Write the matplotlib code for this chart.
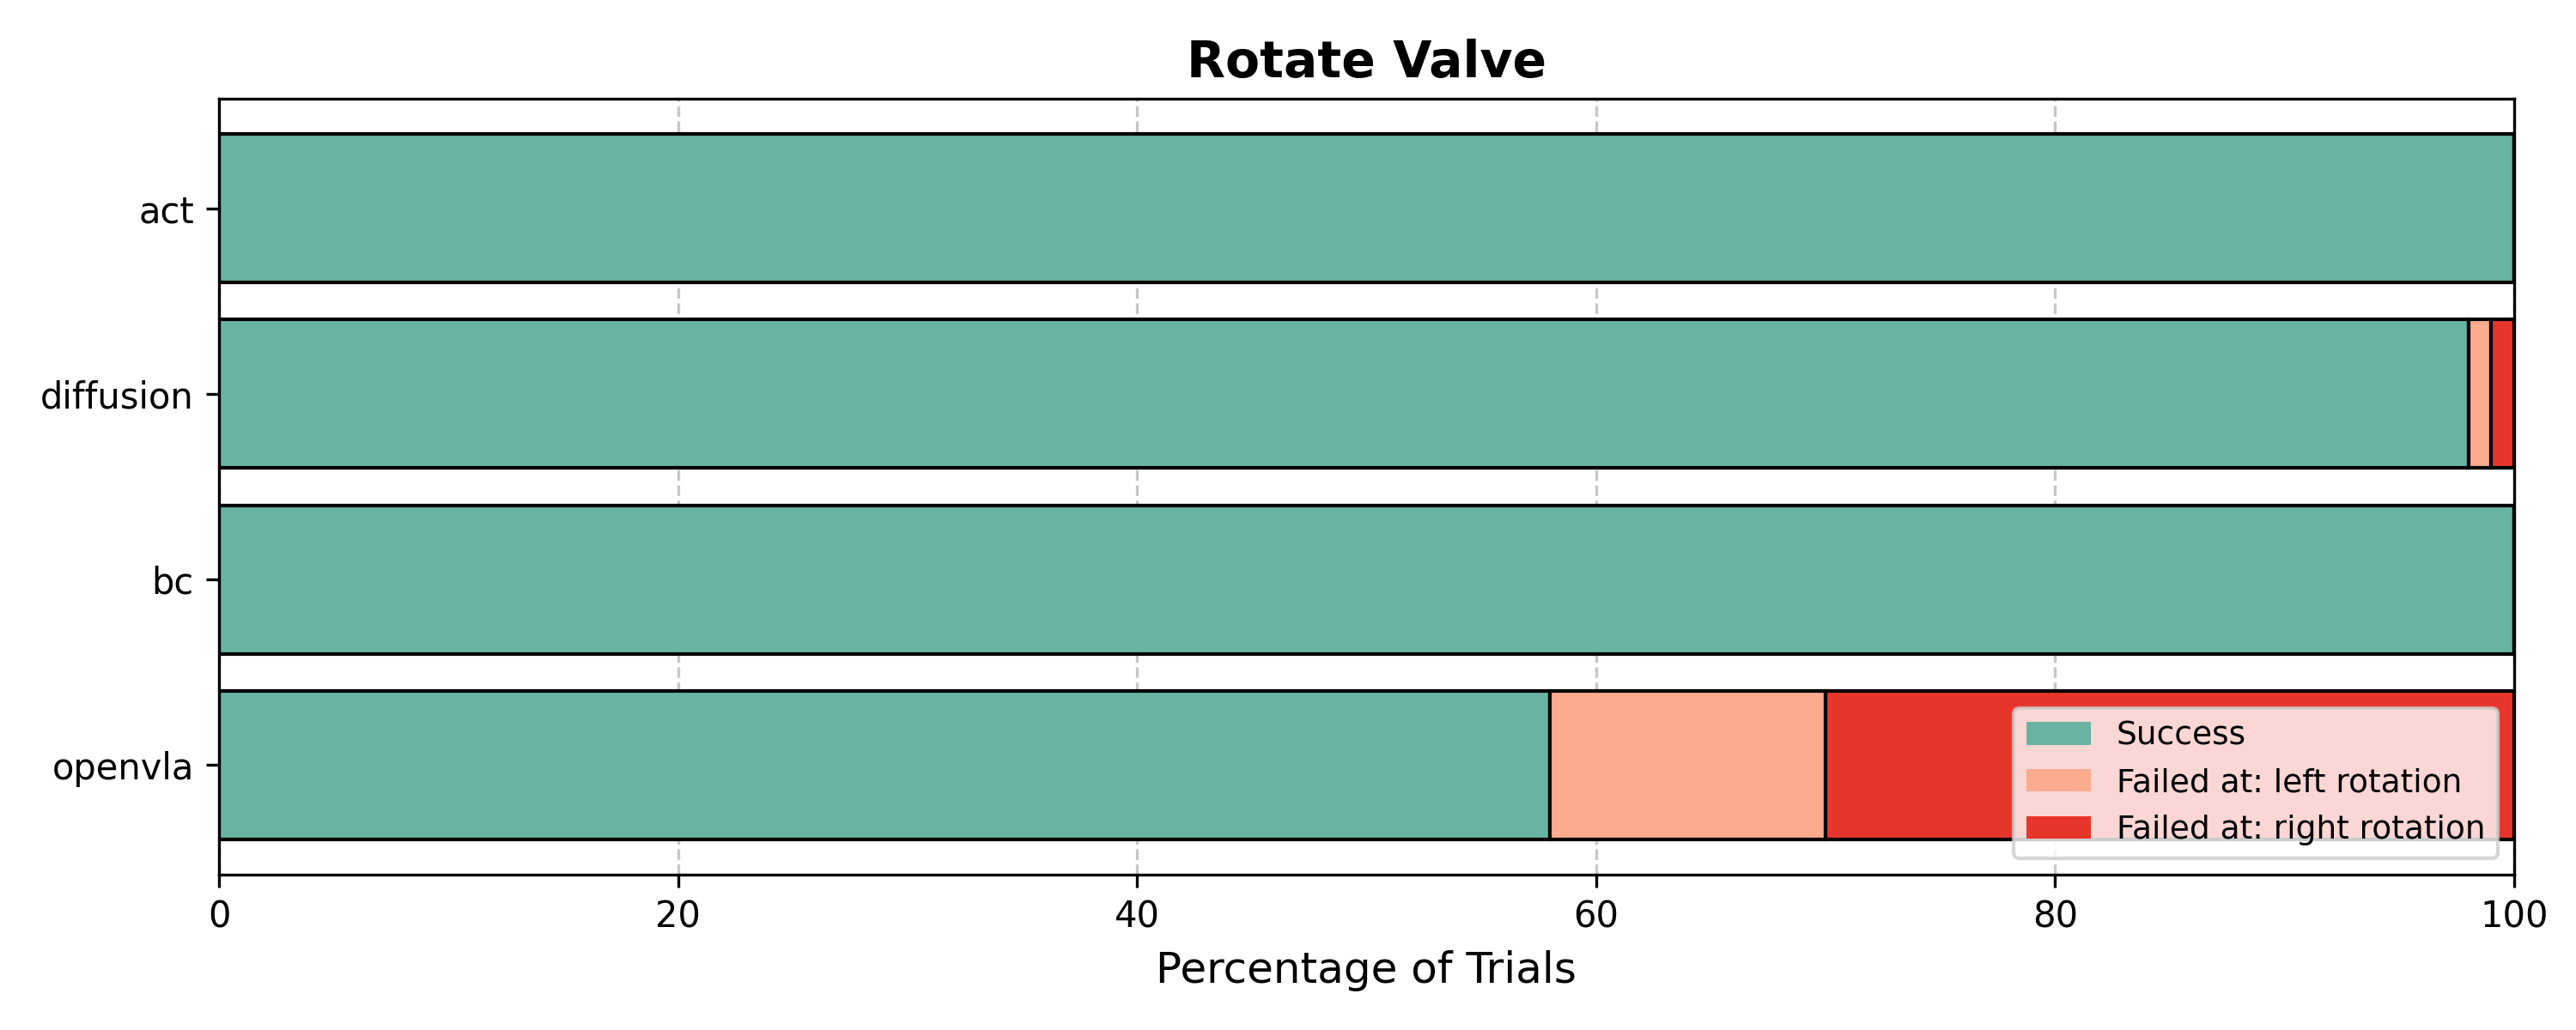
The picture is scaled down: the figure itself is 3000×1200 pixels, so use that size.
import matplotlib
matplotlib.use("Agg")
import matplotlib.pyplot as plt
from matplotlib.patches import Patch
import numpy as np

methods = ["act", "diffusion", "bc", "openvla"]
success = [100, 98, 100, 58]
failed_left = [0, 1, 0, 12]
failed_right = [0, 1, 0, 30]
labels = ["Success", "Failed at: left rotation", "Failed at: right rotation"]
colors = ["#69b3a2", "#fcab8e", "#e8352b"]

fig, ax = plt.subplots(figsize=(10, 4), dpi=300)
y = np.arange(len(methods))
left = np.zeros(len(methods))
for vals, lab, col in zip([success, failed_left, failed_right], labels, colors):
    vals = np.array(vals, dtype=float)
    ax.barh(y, vals, left=left, height=0.8, color=col, edgecolor="black",
            linewidth=1, zorder=2)
    left += vals

ax.set_yticks(y)
ax.set_yticklabels(methods)
ax.invert_yaxis()
ax.set_xlim(0, 100)
ax.set_xlabel("Percentage of Trials", fontsize=12)
ax.set_title("Rotate Valve", fontsize=14, fontweight="bold")
ax.grid(axis="x", linestyle="--", alpha=0.7, zorder=0)
ax.set_axisbelow(True)
handles = [Patch(facecolor=c, edgecolor="none", label=l) for c, l in zip(colors, labels)]
ax.legend(handles=handles, loc="lower right", fontsize=9)
fig.subplots_adjust(left=0.085, right=0.976, top=0.904, bottom=0.151)
fig.savefig("out.png")
